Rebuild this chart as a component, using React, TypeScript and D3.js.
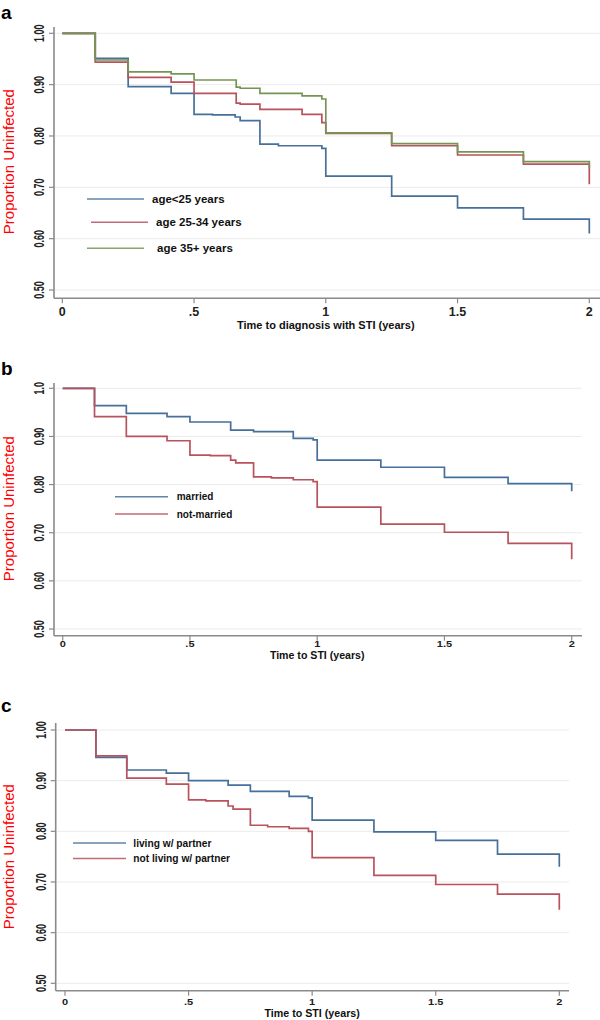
import * as d3 from "d3"

type Pt = [number, number]

// Kaplan-Meier step values: [years, proportion uninfected]
const ageUnder25: Pt[] = [
  [0, 1], [0.125, 0.951], [0.25, 0.896], [0.413, 0.883], [0.5, 0.842], [0.57, 0.841],
  [0.656, 0.837], [0.675, 0.83], [0.75, 0.784], [0.82, 0.781], [0.985, 0.776], [1.0, 0.722],
  [1.25, 0.683], [1.5, 0.66], [1.75, 0.638], [2, 0.61],
]
const age25to34: Pt[] = [
  [0, 1], [0.125, 0.944], [0.25, 0.914], [0.413, 0.905], [0.5, 0.883], [0.66, 0.864],
  [0.675, 0.862], [0.75, 0.852], [0.91, 0.842], [0.985, 0.826], [1.0, 0.805], [1.25, 0.781],
  [1.5, 0.763], [1.75, 0.745], [2, 0.706],
]
const age35plus: Pt[] = [
  [0, 1], [0.125, 0.948], [0.25, 0.925], [0.413, 0.921], [0.5, 0.909], [0.66, 0.895],
  [0.675, 0.893], [0.75, 0.883], [0.91, 0.878], [0.985, 0.872], [1.0, 0.806], [1.25, 0.785],
  [1.5, 0.769], [1.75, 0.75], [2, 0.738],
]

const married: Pt[] = [
  [0, 1], [0.125, 0.964], [0.25, 0.948], [0.41, 0.941], [0.5, 0.93], [0.66, 0.913],
  [0.75, 0.91], [0.906, 0.896], [0.984, 0.893], [1.0, 0.851], [1.25, 0.836], [1.5, 0.815],
  [1.75, 0.802], [2, 0.786],
]
const notMarried: Pt[] = [
  [0, 1], [0.125, 0.941], [0.25, 0.9], [0.41, 0.891], [0.5, 0.861], [0.58, 0.86],
  [0.66, 0.851], [0.68, 0.845], [0.75, 0.816], [0.82, 0.814], [0.906, 0.81], [0.984, 0.806],
  [1.0, 0.753], [1.25, 0.718], [1.5, 0.701], [1.75, 0.678], [2, 0.645],
]

const withPartner: Pt[] = [
  [0, 1], [0.125, 0.946], [0.25, 0.921], [0.41, 0.915], [0.5, 0.9], [0.66, 0.891],
  [0.75, 0.879], [0.907, 0.869], [0.985, 0.866], [1.0, 0.822], [1.25, 0.799], [1.5, 0.782],
  [1.75, 0.755], [2, 0.73],
]
const withoutPartner: Pt[] = [
  [0, 1], [0.125, 0.949], [0.25, 0.905], [0.41, 0.893], [0.5, 0.862], [0.57, 0.86],
  [0.66, 0.85], [0.68, 0.844], [0.75, 0.812], [0.82, 0.809], [0.907, 0.806], [0.985, 0.8],
  [1.0, 0.748], [1.25, 0.713], [1.5, 0.695], [1.75, 0.676], [2, 0.645],
]

const xTicks = [0, 0.5, 1, 1.5, 2]
const xTickLabels = ["0", ".5", "1", "1.5", "2"]
const yTicks = [1.0, 0.9, 0.8, 0.7, 0.6, 0.5]
const yTickLabels = ["1.00", "0.90", "0.80", "0.70", "0.60", "0.50"]
const yTickLabelsB = ["1.0", "0.90", "0.80", "0.70", "0.60", "0.50"]

const BLUE = "#46709a"
const RED = "#b8525c"
const GREEN = "#759652"
const FONT = "Liberation Sans, Arial, sans-serif"

interface Series { name: string; data: Pt[]; color: string }
interface PanelCfg {
  letter: string
  letterY: number
  x0: number; x2: number
  y1: number; y05: number
  axisX: number; axisTop: number; axisBottom: number; right: number
  yLabels: string[]
  yLabelX: number
  xLabelY: number; xLabelSize: number; xLabelSquash: number
  title: string; titleY: number; titleSize: number
  series: Series[]
  legend: { y: number; x1: number; x2: number; tx: number }[]
  legendSize: number
}

const panels: PanelCfg[] = [
  {
    letter: "a", letterY: 19,
    x0: 62.3, x2: 589.3, y1: 33.3, y05: 290,
    axisX: 54, axisTop: 27, axisBottom: 298.3, right: 600,
    yLabels: yTickLabels, yLabelX: 39,
    xLabelY: 315.8, xLabelSize: 12.5, xLabelSquash: 1,
    title: "Time to diagnosis with STI (years)", titleY: 328.6, titleSize: 11,
    series: [
      { name: "age<25 years", data: ageUnder25, color: BLUE },
      { name: "age 25-34 years", data: age25to34, color: RED },
      { name: "age 35+ years", data: age35plus, color: GREEN },
    ],
    legend: [
      { y: 199, x1: 87, x2: 144, tx: 152 },
      { y: 222.3, x1: 91, x2: 148, tx: 156 },
      { y: 248.3, x1: 87, x2: 144, tx: 157 },
    ],
    legendSize: 11.5,
  },
  {
    letter: "b", letterY: 375,
    x0: 62.7, x2: 571.7, y1: 388.3, y05: 629,
    axisX: 54, axisTop: 383, axisBottom: 635.7, right: 582,
    yLabels: yTickLabelsB, yLabelX: 39,
    xLabelY: 647.3, xLabelSize: 11, xLabelSquash: 0.8,
    title: "Time to STI (years)", titleY: 659, titleSize: 10.6,
    series: [
      { name: "married", data: married, color: BLUE },
      { name: "not-married", data: notMarried, color: RED },
    ],
    legend: [
      { y: 496.7, x1: 115, x2: 168, tx: 176.7 },
      { y: 514, x1: 115, x2: 168, tx: 176.7 },
    ],
    legendSize: 10,
  },
  {
    letter: "c", letterY: 711.7,
    x0: 65, x2: 559.3, y1: 730, y05: 983.3,
    axisX: 55.7, axisTop: 723, axisBottom: 990.7, right: 569,
    yLabels: yTickLabels, yLabelX: 41,
    xLabelY: 1005, xLabelSize: 11, xLabelSquash: 0.8,
    title: "Time to STI (years)", titleY: 1016.6, titleSize: 10.7,
    series: [
      { name: "living w/ partner", data: withPartner, color: BLUE },
      { name: "not living w/ partner", data: withoutPartner, color: RED },
    ],
    legend: [
      { y: 843, x1: 73, x2: 126, tx: 133.3 },
      { y: 858.5, x1: 73, x2: 126, tx: 133.3 },
    ],
    legendSize: 10.2,
  },
]

function Panel({ p }: { p: PanelCfg }) {
  const x = d3.scaleLinear().domain([0, 2]).range([p.x0, p.x2])
  const y = d3.scaleLinear().domain([0.5, 1]).range([p.y05, p.y1])
  const line = d3
    .line<Pt>()
    .x((d) => x(d[0]))
    .y((d) => y(d[1]))
    .curve(d3.curveStepAfter)
  const midY = (y(1) + y(0.5)) / 2

  return (
    <g>
      <text x={1} y={p.letterY} fontFamily={FONT} fontWeight="bold" fontSize={19}>
        {p.letter}
      </text>

      {/* gridlines */}
      {yTicks.map((t) => (
        <line key={t} x1={p.axisX + 1} x2={p.right} y1={y(t)} y2={y(t)} stroke="#ebebeb" strokeWidth={1} />
      ))}

      {/* axes */}
      <line x1={p.axisX} x2={p.axisX} y1={p.axisTop} y2={p.axisBottom} stroke="#8a8a8a" strokeWidth={1.6} />
      <line x1={p.axisX} x2={p.right} y1={p.axisBottom} y2={p.axisBottom} stroke="#8a8a8a" strokeWidth={1.6} />

      {yTicks.map((t, i) => (
        <g key={t}>
          <line x1={p.axisX - 5} x2={p.axisX} y1={y(t)} y2={y(t)} stroke="#8a8a8a" strokeWidth={1.2} />
          <text
            transform={`translate(${p.yLabelX},${y(t)}) rotate(-90) scale(0.6,1)`}
            textAnchor="middle"
            dominantBaseline="central"
            fontFamily={FONT}
            fontWeight="bold"
            fontSize={15}
            fill="#222"
          >
            {p.yLabels[i]}
          </text>
        </g>
      ))}

      {xTicks.map((t, i) => (
        <g key={t}>
          <line x1={x(t)} x2={x(t)} y1={p.axisBottom} y2={p.axisBottom + 5} stroke="#8a8a8a" strokeWidth={1.2} />
          <text
            transform={`translate(${x(t)},${p.xLabelY}) scale(1,${p.xLabelSquash})`}
            textAnchor="middle"
            fontFamily={FONT}
            fontWeight="bold"
            fontSize={p.xLabelSize}
            fill="#222"
          >
            {xTickLabels[i]}
          </text>
        </g>
      ))}

      <text x={x(1)} y={p.titleY} textAnchor="middle" fontFamily={FONT} fontWeight="bold" fontSize={p.titleSize} fill="#111">
        {p.title}
      </text>

      <text
        transform={`translate(8,${midY}) rotate(-90)`}
        textAnchor="middle"
        dominantBaseline="central"
        fontFamily={FONT}
        fontSize={15}
        fill="#ff0000"
      >
        Proportion Uninfected
      </text>

      {/* survival curves */}
      {p.series.map((s) => (
        <path key={s.name} d={line(s.data) || ""} fill="none" stroke={s.color} strokeWidth={1.7} />
      ))}

      {/* legend */}
      {p.series.map((s, i) => {
        const l = p.legend[i]
        return (
          <g key={s.name}>
            <line x1={l.x1} x2={l.x2} y1={l.y} y2={l.y} stroke={s.color} strokeWidth={1.5} opacity={0.85} />
            <text x={l.tx} y={l.y} dominantBaseline="central" fontFamily={FONT} fontWeight="bold" fontSize={p.legendSize} fill="#111">
              {s.name}
            </text>
          </g>
        )
      })}
    </g>
  )
}

export default function App() {
  return (
    <svg
      width={600}
      height={1020}
      style={{ position: "absolute", left: 0, top: 0, background: "#fff" }}
    >
      <rect width={600} height={1020} fill="#fff" />
      {panels.map((p) => (
        <Panel key={p.letter} p={p} />
      ))}
    </svg>
  )
}
